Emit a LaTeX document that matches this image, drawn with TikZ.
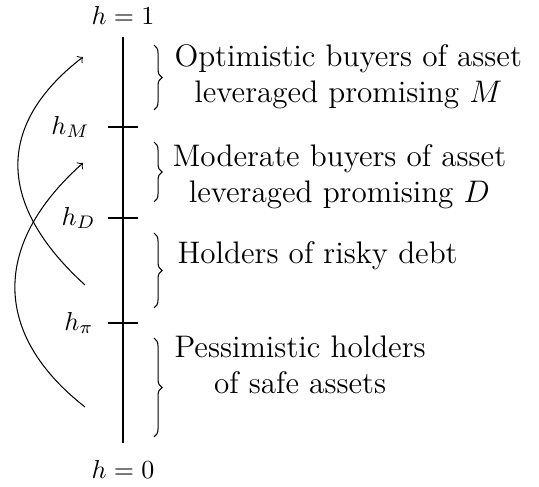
\documentclass[tikz,border=0pt]{standalone}
\usetikzlibrary{decorations.pathreplacing}
\begin{document}
\begin{tikzpicture}[x=0.385pt,y=-0.385pt,
  axis/.style={line width=0.8pt},
  tickline/.style={line width=0.4pt},
  lab/.style={inner sep=0pt, anchor=east},
  endlab/.style={inner sep=0pt, anchor=base},
  desc/.style={inner sep=0pt, anchor=base west, align=center, font=\large},
  bracedeco/.style={decorate, decoration={brace, amplitude=3.1pt}, line width=0.4pt},
  flow/.style={->, line width=0.4pt}]
\useasboundingbox (0,0) rectangle (539,487);
% axis
\coordinate (top) at (123,37);
\coordinate (bot) at (123,443);
\draw[axis] (top) -- (bot);
\node[endlab] (h1) at (123,25) {$h=1$};
\node[endlab] (h0) at (123,479) {$h=0$};
% ticks
\coordinate (tMl) at (108,127); \coordinate (tMr) at (138,127);
\coordinate (tDl) at (108,218); \coordinate (tDr) at (138,218);
\coordinate (tPl) at (108,323); \coordinate (tPr) at (138,323);
\draw[tickline] (tMl) -- (tMr);
\draw[tickline] (tDl) -- (tDr);
\draw[tickline] (tPl) -- (tPr);
\node[lab] (hM) at (90,127) {$h_M$};
\node[lab] (hD) at (96,218) {$h_D$};
\node[lab] (hP) at (94,323) {$h_\pi$};
% braces
\coordinate (b1t) at (154,45);  \coordinate (b1b) at (154,110);
\coordinate (b2t) at (154,142); \coordinate (b2b) at (154,202);
\coordinate (b3t) at (154,233); \coordinate (b3b) at (154,308);
\coordinate (b4t) at (154,338); \coordinate (b4b) at (154,437);
\draw[bracedeco] (b1t) -- (b1b);
\draw[bracedeco] (b2t) -- (b2b);
\draw[bracedeco] (b3t) -- (b3b);
\draw[bracedeco] (b4t) -- (b4b);
% descriptions (anchored at the baseline of the last line)
\node[desc] (t1) at (174,103) {Optimistic buyers of asset\\leveraged promising $M$};
\node[desc] (t2) at (172,203) {Moderate buyers of asset\\leveraged promising $D$};
\node[desc] (t3) at (177,264) {Holders of risky debt};
\node[desc] (t4) at (174,394) {Pessimistic holders\\of safe assets};
% arrows
\coordinate (a1s) at (85,285); \coordinate (a1e) at (83,57);
\coordinate (a2s) at (85,407); \coordinate (a2e) at (83,163);
\draw[flow] (a1s) .. controls (-3,205) and (-5,125) .. (a1e);
\draw[flow] (a2s) .. controls (-7,335) and (-9,245) .. (a2e);
\end{tikzpicture}
\end{document}
